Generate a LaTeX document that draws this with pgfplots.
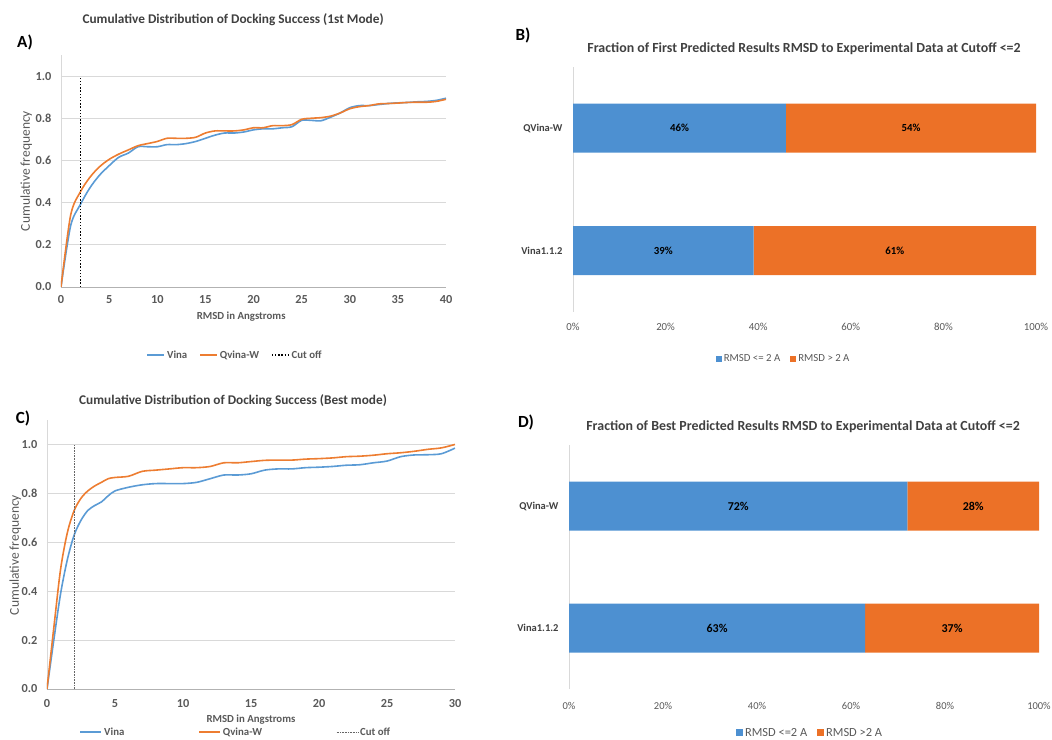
\documentclass[border=0pt]{standalone}
\usepackage{pgfplots}
\usepackage{pgfplotstable}
\pgfplotsset{compat=1.18}
\usepackage{fontspec}
\setmainfont{Carlito}

\definecolor{vinablue}{HTML}{5B9BD5}
\definecolor{qorange}{HTML}{ED7D31}
\definecolor{barblue}{HTML}{4D90D1}
\definecolor{barorange}{HTML}{EC7127}
\definecolor{txt}{HTML}{595959}
\definecolor{ttl}{HTML}{404040}
\definecolor{gridc}{HTML}{D9D9D9}

% cumulative distributions, first mode
\pgfplotstableread{
x vina qvina
0 0 0
1 0.29 0.34
2 0.39 0.45
3 0.47 0.52
4 0.53 0.57
5 0.575 0.605
6 0.615 0.63
7 0.635 0.65
8 0.665 0.67
9 0.665 0.68
10 0.665 0.69
11 0.675 0.705
12 0.675 0.705
13 0.68 0.705
14 0.69 0.71
15 0.705 0.73
16 0.72 0.74
17 0.73 0.74
18 0.73 0.74
19 0.735 0.745
20 0.745 0.755
21 0.75 0.755
22 0.75 0.765
23 0.755 0.765
24 0.76 0.77
25 0.79 0.795
26 0.79 0.80
27 0.788 0.803
28 0.805 0.81
29 0.825 0.825
30 0.85 0.845
31 0.86 0.855
32 0.86 0.86
33 0.865 0.868
34 0.87 0.87
35 0.873 0.872
36 0.875 0.875
37 0.878 0.876
38 0.88 0.876
39 0.885 0.88
40 0.895 0.89
}\firstmode

% cumulative distributions, best mode
\pgfplotstableread{
x vina qvina
0 0 0
0.5 0.20 0.25
1 0.39 0.49
1.5 0.53 0.64
2 0.63 0.73
2.5 0.69 0.78
3 0.73 0.81
3.5 0.75 0.83
4 0.765 0.845
4.5 0.79 0.86
5 0.81 0.865
6 0.825 0.87
7 0.835 0.89
8 0.84 0.895
9 0.84 0.90
10 0.84 0.905
11 0.845 0.905
12 0.86 0.91
13 0.875 0.925
14 0.875 0.925
15 0.88 0.93
16 0.895 0.935
17 0.90 0.936
18 0.90 0.936
19 0.905 0.94
20 0.907 0.942
21 0.91 0.945
22 0.915 0.95
23 0.917 0.952
24 0.925 0.956
25 0.932 0.962
26 0.95 0.966
27 0.957 0.972
28 0.958 0.98
29 0.962 0.986
30 0.985 1.0
}\bestmode

\pgfplotsset{
  every axis title shift=0pt,
  cdf/.style={
    scale only axis,
    axis lines*=left,
    x axis line style={draw=gray!60, line width=0.8pt},
    y axis line style={draw=gridc, line width=0.8pt},
    ymajorgrids,
    grid style={gridc, line width=0.8pt},
    major tick length=0pt,
    ymin=0, ymax=1.1,
    ytick={0,0.2,0.4,0.6,0.8,1.0},
    yticklabel style={/pgf/number format/fixed,/pgf/number format/fixed zerofill,/pgf/number format/precision=1},
    /pgf/number format/assume math mode=true,
    tick label style={font=\bfseries\fontsize{12.3}{14}\selectfont, text=txt},
    xticklabel shift=5pt,
    yticklabel shift=6pt,
    label style={text=txt},
    title style={font=\bfseries\fontsize{13.3}{15}\selectfont, text=ttl, anchor=center},
    legend style={draw=none, fill=none, font=\bfseries\fontsize{10.8}{12}\selectfont, text=txt, anchor=center, legend columns=3},
    legend cell align=left,
  },
  frac/.style={
    scale only axis,
    xbar stacked,
    axis lines*=left,
    x axis line style={draw=none},
    y axis line style={draw=gridc, line width=0.8pt},
    major tick length=0pt,
    xmin=0, xmax=100,
    xtick={0,20,40,60,80,100},
    xticklabel={\pgfmathprintnumber{\tick}\%},
    /pgf/number format/assume math mode=true,
    ymin=-0.5, ymax=1.5,
    ytick={0,1},
    yticklabels={Vina1.1.2, QVina-W},
    xticklabel style={text=txt},
    yticklabel style={text=ttl, font=\bfseries\fontsize{10.5}{12}\selectfont},
    xticklabel shift=8pt,
    yticklabel shift=7pt,
    title style={font=\bfseries\fontsize{13.9}{16}\selectfont, text=ttl, anchor=center},
    legend style={draw=none, fill=none, text=txt, anchor=center, legend columns=2,
      /tikz/every even column/.append style={column sep=8pt}},
    legend image code/.code={\fill[##1] (0pt,-3pt) rectangle (6pt,3pt);},
    visualization depends on=rawx \as \rawx,
    nodes near coords={\pgfmathprintnumber{\rawx}\%},
    every node near coord/.append style={anchor=center, text=black},
  },
  bigsquare/.style={
    legend image code/.code={\fill[##1] (0pt,-3.5pt) rectangle (7pt,3.5pt);},
  },
  longline/.style={
    legend image code/.code={\draw[##1] (0pt,0pt) -- (21pt,0pt);},
  },
}

\begin{document}
\begin{tikzpicture}[x=1pt,y=1pt]
\path[use as bounding box] (0,0) rectangle (1052,739);

% A) first mode, cumulative
\begin{axis}[cdf,
  at={(61pt,452pt)}, anchor=south west,
  width=385pt, height=232pt,
  xmin=0, xmax=40, xtick={0,5,...,40},
  title={Cumulative Distribution of Docking Success (1st Mode)},
  title style={at={(0.447,1.151)}},
  xlabel={RMSD in Angstroms},
  xlabel style={font=\bfseries\fontsize{10.8}{12}\selectfont, at={(0.468,-0.129)}, anchor=center},
  ylabel={Cumulative frequency},
  ylabel style={font=\fontsize{13.5}{15}\selectfont, at={(-0.09,0.5)}, anchor=center},
  legend style={at={(0.452,-0.293)},
    /tikz/every even column/.append style={column sep=10pt}},
]
\addplot[vinablue, line width=1.6pt, smooth] table[x=x, y=vina] {\firstmode};
\addlegendentry{Vina}
\addplot[qorange, line width=1.6pt, smooth] table[x=x, y=qvina] {\firstmode};
\addlegendentry{Qvina-W}
\addplot[black, line width=1.3pt, dash pattern=on 1.3pt off 1.9pt] coordinates {(2,0) (2,1)};
\addlegendentry{Cut off}
\end{axis}

% B) first mode, fractions
\begin{axis}[frac,
  at={(573pt,427pt)}, anchor=south west,
  width=463pt, height=245pt,
  bar width=49pt,
  xticklabel style={font=\fontsize{10.8}{12}\selectfont},
  title={Fraction of First Predicted Results RMSD to Experimental Data at Cutoff <=2},
  title style={at={(0.499,1.073)}},
  legend style={at={(0.455,-0.192)}, font=\fontsize{10.8}{12}\selectfont},
  every node near coord/.append style={font=\bfseries\fontsize{10.8}{12}\selectfont},
]
\addplot[fill=barblue, draw=none] coordinates {(39,0) (46,1)};
\addlegendentry{RMSD <= 2 A}
\addplot[fill=barorange, draw=none] coordinates {(61,0) (54,1)};
\addlegendentry{RMSD > 2 A}
\end{axis}

% C) best mode, cumulative
\begin{axis}[cdf, longline,
  at={(47pt,50pt)}, anchor=south west,
  width=408pt, height=269pt,
  xmin=0, xmax=30, xtick={0,5,...,30},
  xticklabel shift=7pt,
  title={Cumulative Distribution of Docking Success (Best mode)},
  title style={at={(0.456,1.071)}},
  xlabel={RMSD in Angstroms},
  xlabel style={font=\bfseries\fontsize{10.8}{12}\selectfont, at={(0.5,-0.112)}, anchor=center},
  ylabel={Cumulative frequency},
  ylabel style={font=\fontsize{13.5}{15}\selectfont, at={(-0.078,0.498)}, anchor=center},
  legend style={at={(0.463,-0.16)},
    /tikz/every even column/.append style={column sep=72pt}},
]
\addplot[vinablue, line width=1.6pt, smooth] table[x=x, y=vina] {\bestmode};
\addlegendentry{Vina}
\addplot[qorange, line width=1.6pt, smooth] table[x=x, y=qvina] {\bestmode};
\addlegendentry{Qvina-W}
\addplot[gray!80!black, line width=1pt, dash pattern=on 0.8pt off 0.8pt] coordinates {(2,0) (2,1)};
\addlegendentry{Cut off}
\end{axis}

% D) best mode, fractions
\begin{axis}[frac, bigsquare,
  at={(569pt,50pt)}, anchor=south west,
  width=470pt, height=244pt,
  bar width=49pt,
  xticklabel shift=10pt,
  xticklabel style={font=\fontsize{10.5}{12}\selectfont},
  title={Fraction of Best Predicted Results RMSD to Experimental Data at Cutoff <=2},
  title style={at={(0.498,1.074)}},
  legend style={at={(0.513,-0.18)}, font=\fontsize{12.4}{14}\selectfont},
  every node near coord/.append style={font=\bfseries\fontsize{12}{14}\selectfont},
]
\addplot[fill=barblue, draw=none] coordinates {(63,0) (72,1)};
\addlegendentry{RMSD <=2 A}
\addplot[fill=barorange, draw=none] coordinates {(37,0) (28,1)};
\addlegendentry{RMSD >2 A}
\end{axis}

% panel letters
\node[font=\bfseries\fontsize{17}{19}\selectfont] at (25,697) {A)};
\node[font=\bfseries\fontsize{17}{19}\selectfont] at (523,704) {B)};
\node[font=\bfseries\fontsize{17}{19}\selectfont] at (23,321) {C)};
\node[font=\bfseries\fontsize{17}{19}\selectfont] at (526,317) {D)};
\end{tikzpicture}
\end{document}
